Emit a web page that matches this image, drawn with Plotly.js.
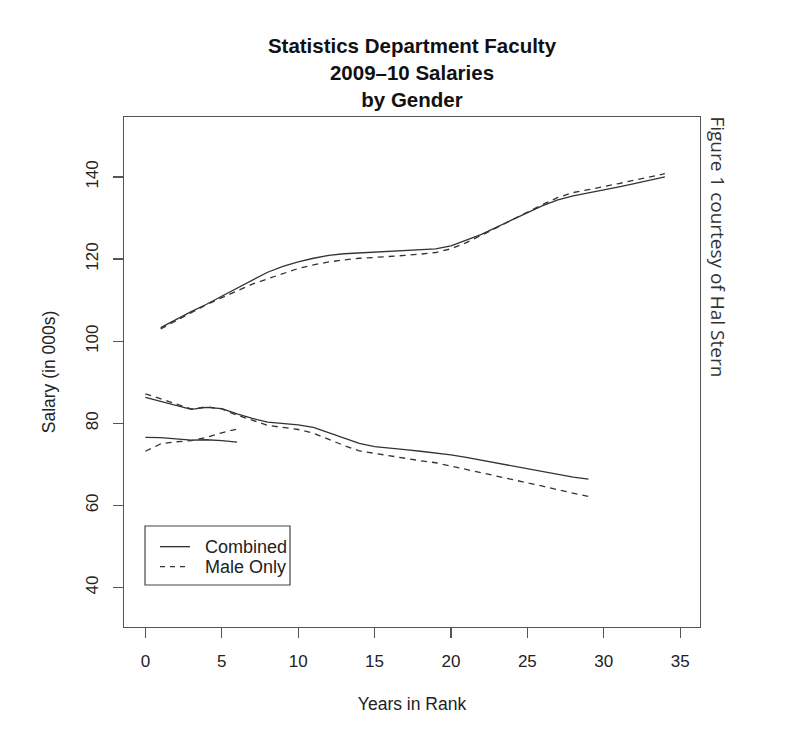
<!DOCTYPE html>
<html>
<head>
<meta charset="utf-8">
<script src="https://cdn.plot.ly/plotly-3.0.1.min.js"></script>
<style>html,body{margin:0;padding:0;background:#fff;}#chart{width:800px;height:752px;}</style>
</head>
<body>
<div id="chart"></div>
<script>
// Years in rank
var yearsFull = [1,2,3,4,5,6,7,8,9,10,11,12,13,14,15,16,17,18,19,20,21,22,23,24,25,26,27,28,29,30,31,32,33,34];
var yearsAssoc = [0,1,2,3,4,5,6,7,8,9,10,11,12,13,14,15,16,17,18,19,20,21,22,23,24,25,26,27,28,29];
var yearsAsst = [0,1,2,3,4,5,6];

// Salaries (in 000s), Combined
var combinedFull = [103.3,105.3,107.2,109.0,111.0,113.0,115.0,116.8,118.2,119.3,120.2,120.9,121.3,121.5,121.6,121.8,122.0,122.2,122.5,123.2,124.6,126.0,127.8,129.6,131.3,133.0,134.4,135.4,136.1,136.8,137.6,138.4,139.2,140.0];
var combinedAssoc = [86.3,85.3,84.3,83.4,83.9,83.6,82.3,81.2,80.3,80.0,79.6,79.0,77.7,76.3,75.1,74.3,74.0,73.6,73.2,72.8,72.3,71.7,71.0,70.3,69.6,68.9,68.2,67.5,66.9,66.4];
var combinedAsst = [76.6,76.5,76.2,75.9,76.0,75.8,75.4];

// Salaries (in 000s), Male Only
var maleFull = [103.0,105.0,107.0,108.9,110.6,112.3,113.9,115.2,116.5,117.7,118.6,119.3,119.8,120.2,120.4,120.6,120.9,121.2,121.6,122.5,124.0,125.8,127.7,129.6,131.5,133.3,135.0,136.2,136.9,137.6,138.4,139.2,140.0,140.8];
var maleAssoc = [87.2,86.0,84.7,83.5,84.0,83.5,82.0,80.7,79.5,79.0,78.5,77.6,76.1,74.6,73.3,72.7,72.0,71.4,70.9,70.4,69.6,68.8,68.0,67.1,66.3,65.5,64.7,63.8,63.0,62.2];
var maleAsst = [73.2,75.0,75.5,75.8,76.6,77.7,78.6];

var seriesNames = ['Combined', 'Male Only'];
var xTicks = [0,5,10,15,20,25,30,35];
var yTicks = [40,60,80,100,120,140];

var ink = '#333';
var dashM = '6px,5px';
var lineC = {color:ink, width:1.3, dash:'solid'};
var lineM = {color:ink, width:1.3, dash:dashM};

function tr(x, y, name, line) {
  return {x:x, y:y, type:'scatter', mode:'lines', name:name, legendgroup:name,
          showlegend:false, line:line, hoverinfo:'skip'};
}

var data = [
  tr(yearsFull, combinedFull, seriesNames[0], lineC),
  tr(yearsAssoc, combinedAssoc, seriesNames[0], lineC),
  tr(yearsAsst, combinedAsst, seriesNames[0], lineC),
  tr(yearsFull, maleFull, seriesNames[1], lineM),
  tr(yearsAssoc, maleAssoc, seriesNames[1], lineM),
  tr(yearsAsst, maleAsst, seriesNames[1], lineM)
];

var fam = '"Liberation Sans", Arial, Helvetica, sans-serif';

// legend box drawn in paper coordinates (R-style legend)
var legRows = [0.1575, 0.1182];
var legShapes = [
  {type:'rect', xref:'paper', yref:'paper', x0:0.0365, x1:0.2882, y0:0.0824, y1:0.198,
   line:{color:'#444', width:1.2}, fillcolor:'#fff', layer:'above'},
  {type:'line', xref:'paper', yref:'paper', x0:0.0625, x1:0.1146, y0:legRows[0], y1:legRows[0],
   line:{color:ink, width:1.3, dash:'solid'}, layer:'above'},
  {type:'line', xref:'paper', yref:'paper', x0:0.0625, x1:0.1146, y0:legRows[1], y1:legRows[1],
   line:{color:ink, width:1.3, dash:'5px,5px'}, layer:'above'}
];
var legText = seriesNames.map(function(n, i){
  return {text:n, xref:'paper', yref:'paper', x:0.1372, y:legRows[i], xanchor:'left', yanchor:'middle',
          showarrow:false, font:{family:fam, size:18, color:'#222'}};
});

var layout = {
  width:800, height:752,
  margin:{l:124, r:100, t:117, b:125},
  paper_bgcolor:'#fff', plot_bgcolor:'#fff',
  font:{family:fam, size:17, color:'#222'},
  title:{text:'<b>Statistics Department Faculty<br>2009\u201310 Salaries<br>by Gender</b>',
         font:{family:fam, size:20.5, color:'#111'},
         x:0.515, xanchor:'center', y:0.929, yanchor:'top', yref:'container'},
  xaxis:{range:[-1.4,36.3], tickvals:xTicks, ticktext:xTicks.map(String),
         showgrid:false, zeroline:false, showline:true, mirror:true, linecolor:'#555', linewidth:1.2,
         ticks:'outside', ticklen:10, tickcolor:'#555', tickwidth:1.2, ticklabelstandoff:8,
         tickfont:{size:17, color:'#222'},
         title:{text:'Years in Rank', font:{size:17.5, color:'#222'}, standoff:28}},
  yaxis:{range:[30.4,154.6], tickvals:yTicks, ticktext:yTicks.map(String),
         showgrid:false, zeroline:false, showline:true, mirror:true, linecolor:'#555', linewidth:1.2,
         ticks:'outside', ticklen:10, tickcolor:'#555', tickwidth:1.2, tickangle:-90, ticklabelstandoff:8,
         tickfont:{size:17, color:'#222'},
         title:{text:'Salary (in 000s)', font:{size:17.5, color:'#222'}, standoff:22}},
  showlegend:false,
  shapes:legShapes,
  annotations:legText.concat([{text:'Figure 1 courtesy of Hal Stern', xref:'paper', yref:'paper',
                x:1.0315, y:0.746, xanchor:'center', yanchor:'middle', textangle:90,
                showarrow:false, font:{family:'"Open Sans", "DejaVu Sans", sans-serif', size:19, color:'#333'}}])
};

Plotly.newPlot('chart', data, layout, {staticPlot:true, displayModeBar:false});
</script>
</body>
</html>
